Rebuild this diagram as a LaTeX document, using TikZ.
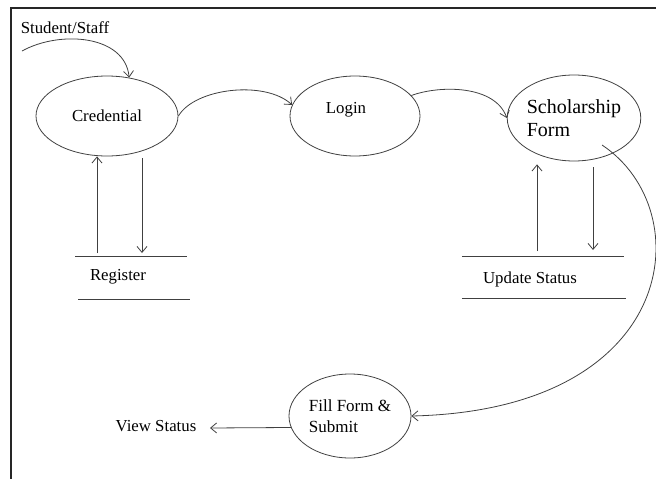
\documentclass[tikz,border=0pt]{standalone}
\usepackage{fontspec}
\setmainfont{Liberation Serif}
\usetikzlibrary{shapes.geometric,arrows.meta}
\begin{document}
\begin{tikzpicture}[x=1pt,y=-1pt,
  txt/.style={inner sep=0pt, font=\fontsize{16.8}{20}\selectfont},
  proc/.style={ellipse, draw=black!75, line width=0.8pt, inner sep=0pt, align=left, font=\fontsize{16.8}{20}\selectfont},
  flow/.style={draw=black!75, line width=0.8pt, -{Straight Barb[length=6pt,width=10pt]}},
  edge/.style={draw=black!75, line width=0.8pt},
  frameline/.style={draw=black!85, line width=1.2pt},
  storebox/.style={rectangle, inner sep=0pt}]
\useasboundingbox (0,0) rectangle (656,479);
% frame
\coordinate (fbl) at (11,479);
\coordinate (ftl) at (11,8);
\coordinate (ftr) at (656,8);
\draw[frameline] (fbl) -- (ftl) -- (ftr);

% processes
\node[proc, minimum width=142pt, minimum height=80pt] (cred) at (107,116) {Credential};
\node[proc, minimum width=130pt, minimum height=80pt] (login) at (355,116) {};
\node[txt] (loginlbl) at (346,110) {Login};
\node[proc, minimum width=120pt, minimum height=86pt, font=\fontsize{20}{23}\selectfont] (schol) at (574,118) {Scholarship\\Form};
\node[proc, minimum width=122pt, minimum height=84pt, font=\fontsize{17}{21}\selectfont] (fill) at (350,416) {Fill Form \&\\Submit};

% labels
\node[txt] (ss) at (65,28) {Student/Staff};
\node[txt] (vs) at (156,426) {View Status};

% stores
\node[storebox, minimum width=111pt, minimum height=42pt] (regstore) at (131,278) {};
\node[txt] (reglbl) at (118,277) {Register};
\draw[edge] (regstore.north west) -- (regstore.north east);
\draw[edge] ([xshift=3pt]regstore.south west) -- ([xshift=3pt]regstore.south east);

\node[storebox, minimum width=162pt, minimum height=41pt] (updstore) at (543,277.5) {};
\node[txt] (updlbl) at (530,279) {Update Status};
\draw[edge] (updstore.north west) -- (updstore.north east);
\draw[edge] (updstore.south west) -- ([xshift=2pt]updstore.south east);

% flows
\coordinate (ssstart) at (22,51);
\draw[flow] (ssstart) .. controls (60,30) and (125,35) .. (cred.60);
\draw[flow] (cred.east) .. controls (195,88) and (265,80) .. (login.170);
\draw[flow] (login.20) .. controls (440,85) and (495,85) .. (schol.west);
\coordinate (bigstart) at (602,145);
\draw[flow] (bigstart) .. controls (700,210) and (680,410) .. (fill.east);
\coordinate (vsend) at (210,428);
\draw[flow] (fill.191) -- (vsend);

\coordinate (ra) at (97,253);
\coordinate (rb) at (142,253);
\draw[flow] (ra) -- (ra |- cred.south);
\draw[flow, shorten <=2pt] (rb |- cred.south) -- (rb);

\coordinate (ua) at (537,251);
\coordinate (ub) at (593,250);
\draw[flow, shorten >=3pt] (ua) -- (ua |- schol.south);
\draw[flow, shorten <=6pt] (ub |- schol.south) -- (ub);
\end{tikzpicture}
\end{document}
